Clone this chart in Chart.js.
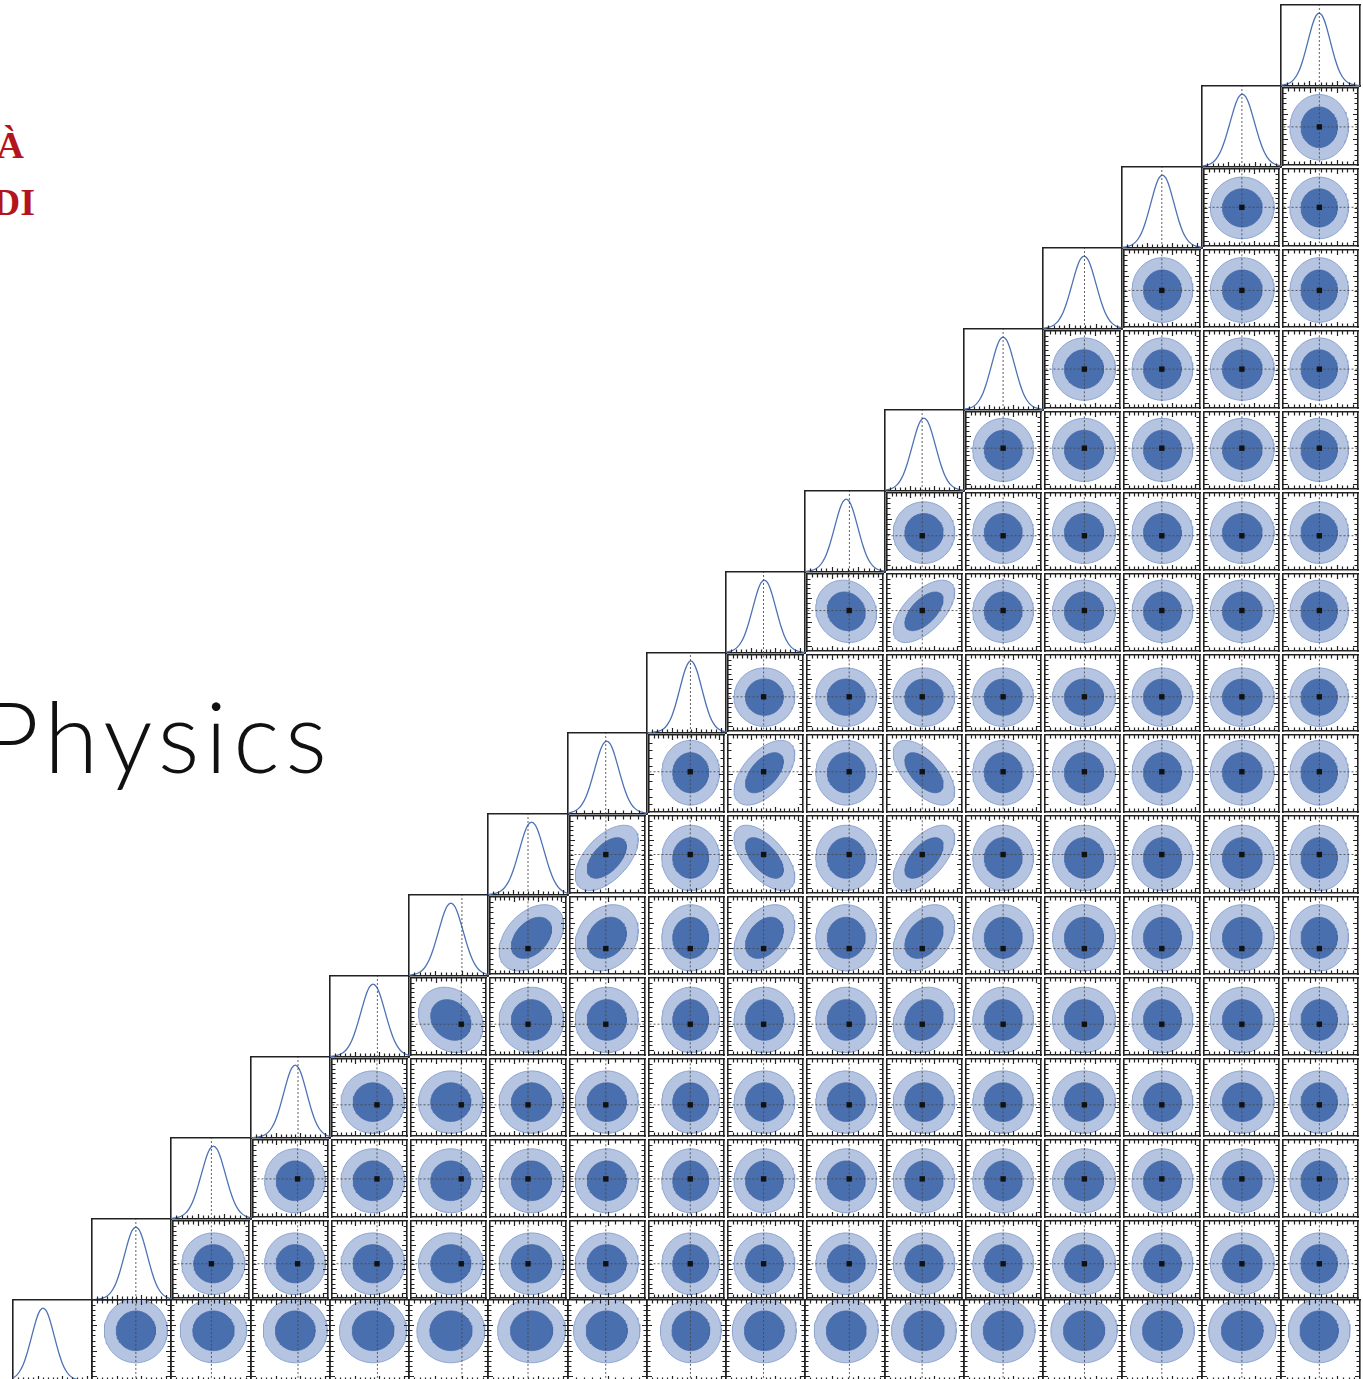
<!DOCTYPE html>
<html>
<head>
<meta charset="utf-8">
<script src="https://cdn.jsdelivr.net/npm/chart.js@4.4.1/dist/chart.umd.min.js"></script>
<style>
  body { margin: 0; background: #fff; width: 1363px; height: 1379px; overflow: hidden; position: relative; }
  #corner canvas { position: absolute; }
  .crest { position: absolute; font-family: "Liberation Serif", serif; font-weight: bold; color: #b4141c;
           font-size: 38px; line-height: 38px; white-space: nowrap; text-align: right; }
  .title { position: absolute; font-family: Lato, Inter, sans-serif; font-weight: 300; color: #111;
           font-size: 98px; line-height: 98px; letter-spacing: 6px; white-space: nowrap; text-align: right; }
</style>
</head>
<body>
<div class="crest" style="right:1339px; top:126px;">À</div>
<div class="crest" style="right:1328px; top:183px;">DI</div>
<div class="title" style="right:1030px; top:686px;">Physics</div>
<div id="corner"></div>
<script>
const N_PARAMS = 17;

// posterior centre of every parameter (units of half the axis range)
const postMean = [-0.24, 0.11, 0.06, 0.12, 0.09, 0.06, 0.09, -0.02, 0.11, -0.03, 0.03, -0.015, -0.01, 0.04, 0.01, 0.02, -0.035];
// injected values, p0 lies outside the plotted range
const injected = [null, 0.11, 0.01, 0.19, 0.2, 0.34, 0, -0.045, 0.1, -0.05, 0.11, -0.06, -0.01, 0.05, -0.005, 0.01, -0.03];
// half width of the outer (95%) contour
const outerWidth = [0.79, 0.80, 0.83, 0.81, 0.85, 0.86, 0.85, 0.84, 0.77, 0.81, 0.80, 0.82, 0.81, 0.84, 0.80, 0.85, 0.78];
const innerRatio = 0.62;

// [x param, y param, correlation]; y axes run downwards
const correlations = [
  [11, 9, -0.6], [9, 7, -0.55], [11, 7, 0.6], [7, 6, -0.55], [9, 6, 0.6], [11, 6, -0.6],
  [6, 5, -0.4], [7, 5, -0.2], [9, 5, -0.35], [11, 5, -0.35], [5, 4, 0.2], [11, 4, -0.15], [10, 9, 0.1]
];

// 1D marginal shape: offset from the peak (in outer widths) and relative height
const profileOffset = [0, 0.1, 0.2, 0.3, 0.4, 0.5, 0.6, 0.7, 0.8, 0.9, 1.0, 1.2, 1.4, 1.8];
const profileHeight = [1, 0.96, 0.85, 0.69, 0.52, 0.36, 0.23, 0.14, 0.08, 0.045, 0.025, 0.008, 0.002, 0];

const tickIntervals = [16, 16, 15, 16, 16, 15, 16, 10, 16, 16, 15, 16, 16, 15, 16, 15, 14];

const GRID_LEFT = 13, GRID_TOP = 5, CELL_W = 79.24, CELL_H = 80.94;
const PAD = 2;
const FRAME = '#222';
const LIGHT = '#b4c4e1', LIGHT_EDGE = '#8da4d0', DARK = '#4a6fae', DARK_EDGE = '#4568a8';
const LINE_BLUE = '#4c72b5';
const GUIDE = 'rgba(70,70,70,0.85)';

const innerTicks = {
  id: 'innerTicks',
  afterDraw(chart, args, opts) {
    const { ctx, chartArea: a } = chart;
    ctx.save();
    ctx.strokeStyle = FRAME;
    ctx.lineWidth = 1.2;
    ctx.beginPath();
    for (const side of opts.sides) {
      const horiz = side === 'top' || side === 'bottom';
      const scale = horiz ? chart.scales.x : chart.scales.y;
      for (const t of scale.ticks) {
        const len = t.major ? 5 : 3.5;
        const p = Math.round(scale.getPixelForValue(t.value)) + 0.5;
        if (side === 'bottom') { ctx.moveTo(p, a.bottom); ctx.lineTo(p, a.bottom - len); }
        if (side === 'top') { ctx.moveTo(p, a.top); ctx.lineTo(p, a.top + len); }
        if (side === 'left') { ctx.moveTo(a.left, p); ctx.lineTo(a.left + len, p); }
        if (side === 'right') { ctx.moveTo(a.right, p); ctx.lineTo(a.right - len, p); }
      }
    }
    ctx.stroke();
    ctx.restore();
  }
};

function tickSetter(param, min, max) {
  return scale => {
    const n = tickIntervals[param];
    const ticks = [];
    for (let k = 1; k < n; k++) ticks.push({ value: min + (max - min) * k / n, major: k % 5 === 0 });
    scale.ticks = ticks;
  };
}

function axis(position, min, max, param, reverse) {
  return {
    type: 'linear', position, min, max, reverse: !!reverse, display: true,
    ticks: { display: false },
    grid: { drawOnChartArea: false, drawTicks: false },
    border: { display: true, color: FRAME, width: 1.6 },
    afterBuildTicks: param === null ? undefined : tickSetter(param, min, max)
  };
}

function cellRect(row, col) {
  const x0 = Math.round(GRID_LEFT + col * CELL_W), x1 = Math.round(GRID_LEFT + (col + 1) * CELL_W);
  const y0 = Math.round(GRID_TOP + row * CELL_H), y1 = Math.round(GRID_TOP + (row + 1) * CELL_H);
  return { x0, y0, w: x1 - x0, h: y1 - y0 };
}

function makeCanvas(r) {
  const c = document.createElement('canvas');
  c.width = r.w + 2 * PAD;
  c.height = r.h + 2 * PAD;
  c.style.left = (r.x0 - PAD) + 'px';
  c.style.top = (r.y0 - PAD) + 'px';
  document.getElementById('corner').appendChild(c);
  return c;
}

function baseOptions(scales, sides) {
  return {
    responsive: false, animation: false, events: [],
    layout: { padding: PAD },
    plugins: { legend: { display: false }, tooltip: { enabled: false }, innerTicks: { sides } },
    scales
  };
}

function correlation(i, j) {
  const hit = correlations.find(c => c[0] === i && c[1] === j);
  return hit ? hit[2] : 0;
}

function contour(cx, cy, ax, ay, rho) {
  const pts = [];
  const s = Math.sqrt(1 - rho * rho);
  for (let k = 0; k <= 90; k++) {
    const t = 2 * Math.PI * k / 90;
    pts.push({ x: cx + ax * Math.cos(t), y: cy + ay * (rho * Math.cos(t) + s * Math.sin(t)) });
  }
  return pts;
}

function guide(points, order) {
  return { data: points, borderColor: GUIDE, borderWidth: 1, borderDash: [2, 2], pointRadius: 0, fill: false, order };
}

// diagonal: 1D marginals
function drawMarginal(i) {
  const row = N_PARAMS - 1 - i, col = i;
  const canvas = makeCanvas(cellRect(row, col));
  const xs = [], ys = [];
  for (let k = profileOffset.length - 1; k > 0; k--) { xs.push(-profileOffset[k]); ys.push(profileHeight[k]); }
  for (let k = 0; k < profileOffset.length; k++) { xs.push(profileOffset[k]); ys.push(profileHeight[k]); }
  const curve = xs.map((u, k) => ({ x: postMean[i] + u * outerWidth[i] * 1.05, y: ys[k] }));
  const datasets = [{
    data: curve, borderColor: LINE_BLUE, borderWidth: 1.3, pointRadius: 0, fill: false,
    cubicInterpolationMode: 'monotone', order: 2
  }];
  if (injected[i] !== null) datasets.push(guide([{ x: injected[i], y: 0 }, { x: injected[i], y: 1.2 }], 1));
  new Chart(canvas, {
    type: 'line',
    data: { datasets },
    options: baseOptions({
      x: axis('bottom', -1, 1, i),
      xTop: axis('top', -1, 1, null),
      y: axis('left', 0, 1.11, null),
      yRight: axis('right', 0, 1.11, null)
    }, ['bottom'])
  });
}

// off-diagonal: 2D contours of param i (x) against param j (y)
function drawJoint(i, j) {
  const row = N_PARAMS - 1 - j, col = i;
  const canvas = makeCanvas(cellRect(row, col));
  const rho = correlation(i, j);
  const ax = outerWidth[i], ay = outerWidth[j];
  const datasets = [
    { data: contour(postMean[i], postMean[j], ax, ay, rho), borderColor: LIGHT_EDGE, borderWidth: 1,
      backgroundColor: LIGHT, fill: 'shape', pointRadius: 0, order: 5 },
    { data: contour(postMean[i], postMean[j], ax * innerRatio, ay * innerRatio, rho), borderColor: DARK_EDGE,
      borderWidth: 0.8, backgroundColor: DARK, fill: 'shape', pointRadius: 0, order: 4 }
  ];
  if (injected[i] !== null) datasets.push(guide([{ x: injected[i], y: -1.2 }, { x: injected[i], y: 1.2 }], 3));
  if (injected[j] !== null) datasets.push(guide([{ x: -1.2, y: injected[j] }, { x: 1.2, y: injected[j] }], 2));
  if (injected[i] !== null && injected[j] !== null) {
    datasets.push({ data: [{ x: injected[i], y: injected[j] }], showLine: false, pointStyle: 'rect',
      pointRadius: 3.8, pointBackgroundColor: '#111', pointBorderWidth: 0, order: 1 });
  }
  new Chart(canvas, {
    type: 'line',
    data: { datasets },
    options: baseOptions({
      x: axis('bottom', -1, 1, i),
      xTop: axis('top', -1, 1, i),
      y: axis('left', -1, 1, j, true),
      yRight: axis('right', -1, 1, j, true)
    }, ['bottom', 'top', 'left', 'right'])
  });
}

Chart.register(innerTicks);
for (let i = 0; i < N_PARAMS; i++) {
  drawMarginal(i);
  for (let j = 0; j < i; j++) drawJoint(i, j);
}
</script>
</body>
</html>
